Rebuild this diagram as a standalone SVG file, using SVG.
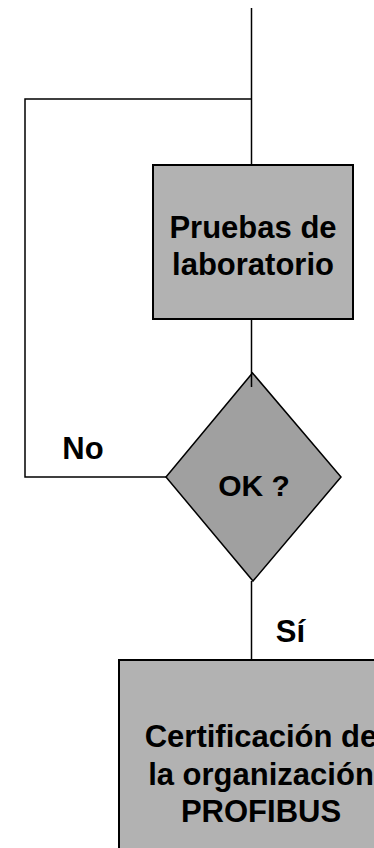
<svg xmlns="http://www.w3.org/2000/svg" width="374" height="848" viewBox="0 0 374 848">
  <style>
    .box { fill: #b2b2b2; stroke: #000; stroke-width: 2; }
    .dec { fill: #a0a0a0; stroke: #000; stroke-width: 1.5; }
    .lbl { font-family: "Liberation Sans", Arial, sans-serif; font-weight: bold; font-size: 31px; fill: #000; }
    .mid { text-anchor: middle; }
    .wire { fill: none; stroke: #000; stroke-width: 1.5; }
  </style>
  <rect width="374" height="848" fill="#fff"/>

  <!-- process step -->
  <g id="pruebas">
    <rect class="box" x="153" y="165" width="200" height="154"/>
    <text class="lbl mid" x="253" y="238">Pruebas de</text>
    <text class="lbl mid" x="253" y="275">laboratorio</text>
  </g>

  <!-- decision -->
  <g id="ok">
    <polygon class="dec" points="252.5,373 341,477 253,581 166,477"/>
    <text class="lbl mid" x="254" y="496" style="font-size:30px">OK ?</text>
  </g>

  <!-- final step (runs past the page edge) -->
  <g id="certificacion">
    <rect class="box" x="119" y="660" width="284" height="200"/>
    <text class="lbl mid" x="261" y="747">Certificación de</text>
    <text class="lbl mid" x="261" y="785">la organización</text>
    <text class="lbl mid" x="261" y="822">PROFIBUS</text>
  </g>

  <!-- connectors -->
  <g id="connectors">
    <path class="wire" d="M251.5,8 V165"/>
    <path class="wire" d="M251.5,99 H25 V477 H166"/>
    <path class="wire" d="M251.5,319 V387"/>
    <path class="wire" d="M251.5,581 V660"/>
    <text class="lbl mid" x="83" y="459">No</text>
    <text class="lbl mid" x="290.5" y="642">Sí</text>
  </g>
</svg>
